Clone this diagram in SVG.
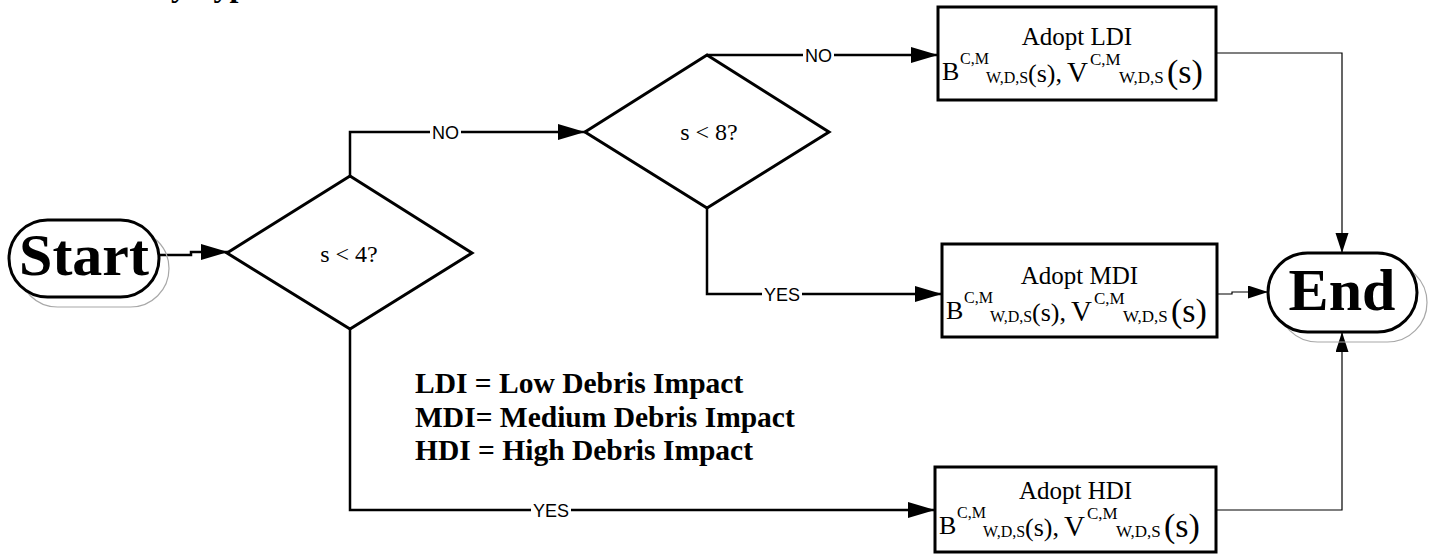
<svg xmlns="http://www.w3.org/2000/svg" width="1430" height="556" viewBox="0 0 1430 556">
  <style>
    .serif { font-family: "Liberation Serif", "Times New Roman", serif; fill: #000; }
    .bold { font-weight: bold; }
    .sans { font-family: "Liberation Sans", Arial, sans-serif; fill: #000; font-size: 18px; }
    .term { fill: #fff; stroke: #000; stroke-width: 3; }
    .shadow { fill: none; stroke: #a8a8a8; stroke-width: 1.2; }
    .decision { fill: #fff; stroke: #000; stroke-width: 3; stroke-linejoin: miter; }
    .box { fill: #fff; stroke: #000; stroke-width: 3; }
    .flow { fill: none; stroke: #000; stroke-width: 2.5; }
    .thin { fill: none; stroke: #000; stroke-width: 1.2; }
    .lblbg { fill: #fff; }
    .f16 { font-size: 16px; }
    .f17 { font-size: 17px; }
    .f24 { font-size: 24px; }
    .f25 { font-size: 25px; }
    .f26 { font-size: 26px; }
    .f29 { font-size: 29px; }
    .f34 { font-size: 34px; }
  </style>
  <defs>
    <marker id="arrowBig" markerUnits="userSpaceOnUse" markerWidth="28" markerHeight="18" refX="27" refY="8" orient="auto">
      <path d="M0,0 L27,8 L0,16 Z" fill="#000"/>
    </marker>
    <marker id="arrowSmall" markerUnits="userSpaceOnUse" markerWidth="22" markerHeight="14" refX="20" refY="6.5" orient="auto">
      <path d="M0,0 L20,6.5 L0,13 Z" fill="#000"/>
    </marker>
  </defs>
  <rect width="1430" height="556" fill="#fff"/>

  <!-- heading clipped at the top edge -->
  <text class="serif bold" x="171" y="-4" font-size="32">y Type</text>

  <!-- connectors -->
  <g id="connectors">
    <path class="flow" d="M159,255 H191 V252 H228" marker-end="url(#arrowBig)"/>
    <path class="flow" d="M350,176 V132 H585" marker-end="url(#arrowBig)"/>
    <path class="flow" d="M707,55 H938" marker-end="url(#arrowBig)"/>
    <path class="flow" d="M707,208 V294 H942" marker-end="url(#arrowBig)"/>
    <path class="flow" d="M350,329 V510 H935" marker-end="url(#arrowBig)"/>
    <path class="thin" d="M1216,53 H1342 V253" marker-end="url(#arrowSmall)"/>
    <path class="thin" d="M1217,294 H1232 V292 H1268" marker-end="url(#arrowSmall)"/>
    <path class="thin" d="M1216,510 H1342 V332" marker-end="url(#arrowSmall)"/>
    <!-- branch labels -->
    <rect class="lblbg" x="430" y="122" width="31" height="20"/>
    <text class="sans" x="445.5" y="138.5" text-anchor="middle">NO</text>
    <rect class="lblbg" x="803" y="45" width="31" height="20"/>
    <text class="sans" x="818.5" y="61.5" text-anchor="middle">NO</text>
    <rect class="lblbg" x="762" y="284" width="40" height="20"/>
    <text class="sans" x="782" y="300.5" text-anchor="middle">YES</text>
    <rect class="lblbg" x="531" y="500" width="40" height="20"/>
    <text class="sans" x="551" y="516.5" text-anchor="middle">YES</text>
  </g>

  <!-- start terminal -->
  <g id="start">
    <rect class="shadow" x="19" y="230" width="150" height="77" rx="38.5"/>
    <rect class="term" x="9" y="220" width="150" height="77" rx="38.5"/>
    <text class="serif bold" x="84" y="275" font-size="60" text-anchor="middle">Start</text>
  </g>

  <!-- decision s < 4 -->
  <g id="decision-s4">
    <polygon class="decision" points="350,176 472,253 350,329 227,253"/>
    <text class="serif f24" x="349" y="262" text-anchor="middle">s &lt; 4?</text>
  </g>

  <!-- decision s < 8 -->
  <g id="decision-s8">
    <polygon class="decision" points="707,55 829,132 707,208 585,132"/>
    <text class="serif f24" x="709" y="140" text-anchor="middle">s &lt; 8?</text>
  </g>

  <!-- process boxes -->
  <g id="adopt-ldi" transform="translate(938,45)">
    <rect class="box" x="0" y="-38" width="278" height="93"/>
    <text class="serif f25" x="139" y="0" text-anchor="middle">Adopt LDI</text>
    <text class="serif f26" x="4" y="35">B</text>
    <text class="serif f16" x="22" y="19">C,M</text>
    <text class="serif f16" x="48" y="38">W,D,S</text>
    <text class="serif f26" x="90" y="37">(s),</text>
    <text class="serif f29" x="129" y="37">V</text>
    <text class="serif f17" x="152" y="20">C,M</text>
    <text class="serif f17" x="181" y="38">W,D,S</text>
    <text class="serif f34" x="229" y="38">(s)</text>
  </g>

  <g id="adopt-mdi" transform="translate(942,284)">
    <rect class="box" x="0" y="-40" width="275" height="93"/>
    <text class="serif f25" x="137.5" y="0" text-anchor="middle">Adopt MDI</text>
    <text class="serif f26" x="4" y="35">B</text>
    <text class="serif f16" x="22" y="19">C,M</text>
    <text class="serif f16" x="48" y="38">W,D,S</text>
    <text class="serif f26" x="90" y="37">(s),</text>
    <text class="serif f29" x="129" y="37">V</text>
    <text class="serif f17" x="152" y="20">C,M</text>
    <text class="serif f17" x="181" y="38">W,D,S</text>
    <text class="serif f34" x="229" y="38">(s)</text>
  </g>

  <g id="adopt-hdi" transform="translate(935,499)">
    <rect class="box" x="0" y="-32" width="281" height="85"/>
    <text class="serif f25" x="140.5" y="0" text-anchor="middle">Adopt HDI</text>
    <text class="serif f26" x="4" y="35">B</text>
    <text class="serif f16" x="22" y="19">C,M</text>
    <text class="serif f16" x="48" y="38">W,D,S</text>
    <text class="serif f26" x="90" y="37">(s),</text>
    <text class="serif f29" x="129" y="37">V</text>
    <text class="serif f17" x="152" y="20">C,M</text>
    <text class="serif f17" x="181" y="38">W,D,S</text>
    <text class="serif f34" x="229" y="38">(s)</text>
  </g>

  <!-- end terminal -->
  <g id="end">
    <rect class="shadow" x="1278" y="263" width="149" height="79" rx="39.5"/>
    <rect class="term" x="1268" y="253" width="149" height="79" rx="39.5"/>
    <text class="serif bold" x="1342" y="310" font-size="60" text-anchor="middle">End</text>
  </g>

  <!-- legend -->
  <g id="legend" class="serif bold" font-size="29.5">
    <text x="415" y="393">LDI = Low Debris Impact</text>
    <text x="415" y="427">MDI= Medium Debris Impact</text>
    <text x="415" y="460">HDI = High Debris Impact</text>
  </g>
</svg>
